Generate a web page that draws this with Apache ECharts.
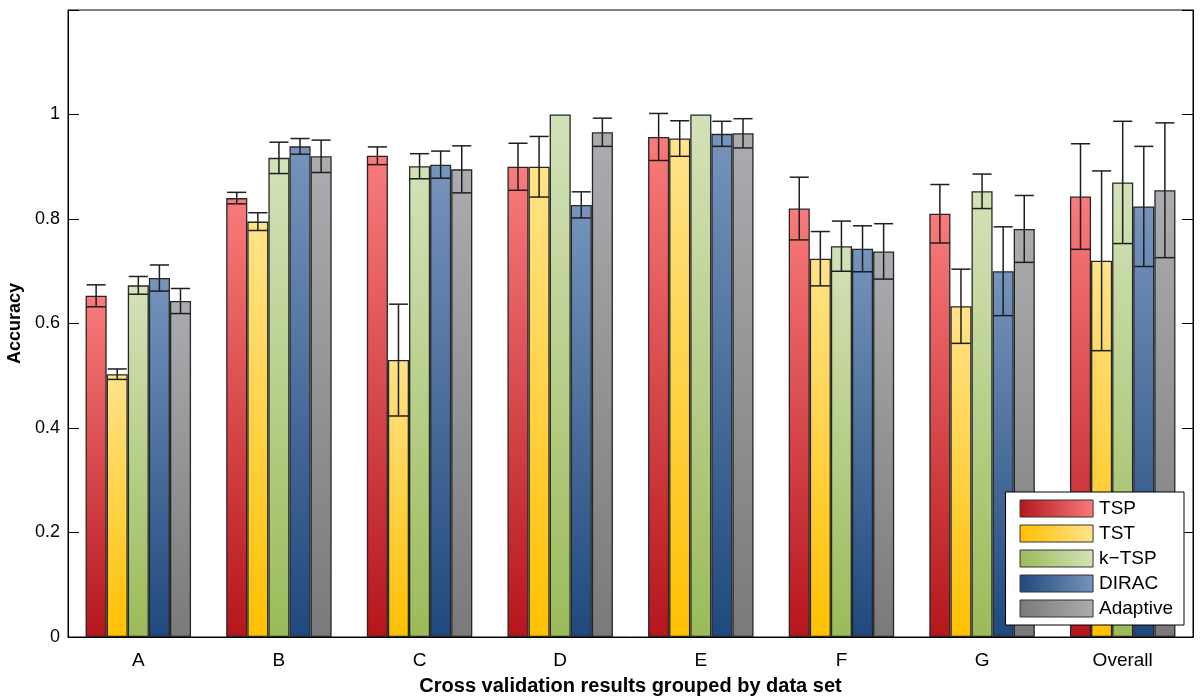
<!DOCTYPE html>
<html>
<head>
<meta charset="utf-8">
<script src="https://cdn.jsdelivr.net/npm/echarts@6/dist/echarts.min.js"></script>
<style>
html,body{margin:0;padding:0;background:#fff;}
#chart{width:1200px;height:697px;}
</style>
</head>
<body>
<div id="chart"></div>
<script>
const categories = ['A','B','C','D','E','F','G','Overall'];
const methods = ['TSP','TST','k\u2212TSP','DIRAC','Adaptive'];
const tsp         = [0.653, 0.840, 0.921, 0.900, 0.957, 0.820, 0.810, 0.843];
const tspErr      = [0.021, 0.011, 0.017, 0.045, 0.045, 0.060, 0.056, 0.101];
const tst         = [0.503, 0.795, 0.530, 0.900, 0.954, 0.724, 0.633, 0.720];
const tstErr      = [0.010, 0.017, 0.107, 0.058, 0.034, 0.052, 0.071, 0.172];
const ktsp        = [0.673, 0.917, 0.901, 1.000, 1.000, 0.748, 0.853, 0.870];
const ktspErr     = [0.017, 0.030, 0.024, 0.000, 0.000, 0.048, 0.033, 0.117];
const dirac       = [0.687, 0.939, 0.904, 0.827, 0.963, 0.743, 0.700, 0.824];
const diracErr    = [0.025, 0.015, 0.026, 0.025, 0.024, 0.044, 0.085, 0.115];
const adaptive    = [0.643, 0.920, 0.895, 0.966, 0.964, 0.738, 0.781, 0.855];
const adaptiveErr = [0.024, 0.031, 0.045, 0.027, 0.028, 0.053, 0.064, 0.129];
const yTicks = [0, 0.2, 0.4, 0.6, 0.8, 1];

const values = [tsp, tst, ktsp, dirac, adaptive];
const errs = [tspErr, tstErr, ktspErr, diracErr, adaptiveErr];
const darkColors  = ['#B5161C', '#FFC000', '#9BBB59', '#1F497D', '#7A7A7A'];
const lightColors = ['#F97B7B', '#FFE38A', '#D3E2B9', '#7694BC', '#AAACAF'];

const FONT = 'Liberation Sans, Arial, sans-serif';
const nS = methods.length;
const CAT_GAP = 0.25;

function vGrad(i){
  return new echarts.graphic.LinearGradient(0, 1, 0, 0, [
    {offset: 0, color: darkColors[i]}, {offset: 1, color: lightColors[i]}
  ]);
}
function hGrad(i){
  return new echarts.graphic.LinearGradient(0, 0, 1, 0, [
    {offset: 0, color: darkColors[i]}, {offset: 1, color: lightColors[i]}
  ]);
}

const series = [];
methods.forEach((m, i) => {
  series.push({
    name: m,
    type: 'bar',
    data: values[i],
    barGap: '0%',
    barCategoryGap: '25%',
    itemStyle: {color: vGrad(i), borderColor: '#262626', borderWidth: 1.3},
    emphasis: {disabled: true},
    z: 2
  });
});
methods.forEach((m, i) => {
  const d = values[i].map((v, c) => [c, v - errs[i][c], v + errs[i][c], errs[i][c]]);
  series.push({
    name: m + '_err',
    type: 'custom',
    data: d,
    z: 5,
    silent: true,
    encode: {x: 0, y: [1, 2]},
    renderItem: function(params, api){
      const e = api.value(3);
      if (!e) return null;
      const c = api.value(0);
      const lo = api.coord([c, api.value(1)]);
      const hi = api.coord([c, api.value(2)]);
      const band = api.size([1, 0])[0];
      const bw = band * (1 - CAT_GAP) / nS;
      const x = lo[0] + (i - (nS - 1) / 2) * bw;
      const hw = bw / 2 - 1;
      const st = {stroke: '#1e1e1e', lineWidth: 1.5};
      return {
        type: 'group',
        children: [
          {type: 'line', shape: {x1: x, y1: lo[1], x2: x, y2: hi[1]}, style: st},
          {type: 'line', shape: {x1: x - hw, y1: hi[1], x2: x + hw, y2: hi[1]}, style: st},
          {type: 'line', shape: {x1: x - hw, y1: lo[1], x2: x + hw, y2: lo[1]}, style: st}
        ]
      };
    }
  });
});

const chart = echarts.init(document.getElementById('chart'));
chart.setOption({
  animation: false,
  textStyle: {fontFamily: FONT, color: '#000'},
  grid: {left: 68, right: 7, top: 10, bottom: 60, outerBoundsMode: 'none', containLabel: false,
         show: true, borderColor: '#000', borderWidth: 1, backgroundColor: 'transparent'},
  legend: {
    orient: 'vertical',
    right: 16,
    bottom: 72,
    padding: [7, 11, 7, 14],
    itemWidth: 73,
    itemHeight: 17,
    itemGap: 6,
    backgroundColor: '#fff',
    borderColor: '#000',
    borderWidth: 1,
    borderRadius: 0,
    icon: 'rect',
    textStyle: {fontSize: 19, lineHeight: 17, color: '#000', fontFamily: FONT, padding: [0, 0, 0, 1]},
    data: methods.map((m, i) => ({name: m, itemStyle: {color: hGrad(i), borderColor: '#333', borderWidth: 1}}))
  },
  xAxis: [{
    type: 'category',
    data: categories,
    axisLine: {lineStyle: {color: '#000', width: 1}},
    axisTick: {show: false},
    axisLabel: {fontSize: 19, color: '#000', margin: 14, fontFamily: FONT},
    name: 'Cross validation results grouped by data set',
    nameLocation: 'middle',
    nameGap: 39,
    nameTextStyle: {fontSize: 20, fontWeight: 'bold', color: '#000', fontFamily: FONT}
  }],
  yAxis: [{
    type: 'value',
    min: 0,
    max: 1.2,
    interval: 0.2,
    axisLine: {show: true, lineStyle: {color: '#000', width: 1}},
    axisTick: {show: true, inside: true, length: 11, lineStyle: {color: '#000'}},
    splitLine: {show: false},
    axisLabel: {
      fontSize: 18, color: '#000', margin: 8, fontFamily: FONT,
      formatter: function(v){
        const t = yTicks.find(x => Math.abs(x - v) < 1e-6);
        return t === undefined ? '' : String(t);
      }
    },
    name: 'Accuracy',
    nameLocation: 'middle',
    nameGap: 44,
    nameRotate: 90,
    nameTextStyle: {fontSize: 18, fontWeight: 'bold', color: '#000', fontFamily: FONT}
  }, {
    type: 'value',
    position: 'right',
    min: 0,
    max: 1.2,
    interval: 0.2,
    axisLine: {show: true, lineStyle: {color: '#000', width: 1}},
    axisTick: {show: true, inside: true, length: 11, lineStyle: {color: '#000'}},
    splitLine: {show: false},
    axisLabel: {show: false}
  }],
  series: series
});
</script>
</body>
</html>
